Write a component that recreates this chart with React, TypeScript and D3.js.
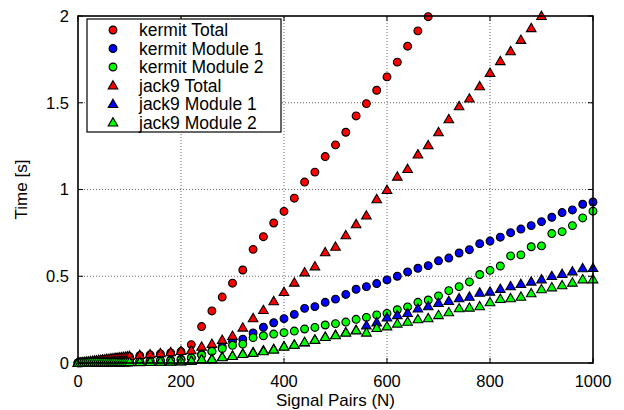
import React from "react";
import * as d3 from "d3";

const xValues = [
  0, 4, 8, 12, 16, 20, 24, 28, 32, 36, 40, 44, 48, 52, 56, 60, 64, 68, 72, 76, 80, 84, 88, 92, 96, 100,
  120, 140, 160, 180, 200, 220, 240, 260, 280, 300, 320, 340, 360, 380, 400, 420, 440, 460, 480, 500,
  520, 540, 560, 580, 600, 620, 640, 660, 680, 700, 720, 740, 760, 780, 800, 820, 840, 860, 880, 900,
  920, 940, 960, 980, 1000,
];

const kermitTotal = [
  0.002, 0.003, 0.004, 0.005, 0.006, 0.008, 0.009, 0.011, 0.012, 0.014, 0.015, 0.017, 0.018, 0.02, 0.021, 0.023, 0.024, 0.026, 0.027, 0.029, 0.03, 0.031, 0.032, 0.034, 0.035, 0.036,
  0.042, 0.047, 0.052, 0.058, 0.066, 0.106, 0.21, 0.3, 0.38, 0.46, 0.536, 0.655, 0.728, 0.807, 0.874, 0.95, 1.043, 1.1, 1.19, 1.257,
  1.33, 1.424, 1.495, 1.572, 1.649, 1.734, 1.826, 1.914, 1.996, null, null, null, null, null, null, null, null, null, null, null,
  null, null, null, null, null,
];

const kermitModule1 = [
  0.001, 0.001, 0.002, 0.002, 0.002, 0.003, 0.003, 0.003, 0.004, 0.004, 0.004, 0.005, 0.005, 0.005, 0.006, 0.006, 0.006, 0.007, 0.007, 0.007, 0.008, 0.008, 0.008, 0.009, 0.009, 0.009,
  0.01, 0.012, 0.015, 0.018, 0.022, 0.03, 0.05, 0.068, 0.094, 0.126, 0.137, 0.173, 0.206, 0.232, 0.256, 0.28, 0.315, 0.325, 0.35, 0.368,
  0.395, 0.425, 0.44, 0.458, 0.479, 0.5, 0.525, 0.546, 0.561, 0.589, 0.605, 0.634, 0.653, 0.688, 0.703, 0.725, 0.751, 0.772, 0.792, 0.815,
  0.84, 0.867, 0.882, 0.915, 0.928,
];

const kermitModule2 = [
  0.001, 0.001, 0.001, 0.002, 0.002, 0.002, 0.003, 0.003, 0.003, 0.003, 0.004, 0.004, 0.004, 0.005, 0.005, 0.005, 0.005, 0.006, 0.006, 0.006, 0.006, 0.007, 0.007, 0.007, 0.007, 0.008,
  0.008, 0.01, 0.012, 0.014, 0.018, 0.03, 0.046, 0.067, 0.083, 0.102, 0.109, 0.146, 0.157, 0.167, 0.175, 0.184, 0.196, 0.205, 0.219, 0.227,
  0.236, 0.252, 0.263, 0.277, 0.286, 0.307, 0.323, 0.35, 0.363, 0.387, 0.417, 0.44, 0.467, 0.51, 0.534, 0.559, 0.617, 0.623, 0.67, 0.675,
  0.746, 0.757, 0.792, 0.836, 0.875,
];

const jack9Total = [
  0.002, 0.003, 0.005, 0.006, 0.008, 0.009, 0.011, 0.012, 0.014, 0.015, 0.017, 0.018, 0.02, 0.021, 0.023, 0.024, 0.026, 0.027, 0.029, 0.03, 0.032, 0.033, 0.035, 0.036, 0.038, 0.04,
  0.046, 0.05, 0.056, 0.062, 0.069, 0.073, 0.094, 0.11, 0.133, 0.156, 0.204, 0.258, 0.305, 0.356, 0.409, 0.463, 0.522, 0.557, 0.638, 0.67,
  0.736, 0.8, 0.85, 0.944, 0.997, 1.074, 1.118, 1.202, 1.255, 1.33, 1.405, 1.48, 1.524, 1.595, 1.672, 1.74, 1.797, 1.862, 1.93, 2.0,
  null, null, null, null, null,
];

const jack9Module1 = [
  0.001, 0.001, 0.001, 0.001, 0.002, 0.002, 0.002, 0.002, 0.002, 0.003, 0.003, 0.003, 0.003, 0.003, 0.004, 0.004, 0.004, 0.004, 0.004, 0.005, 0.005, 0.005, 0.005, 0.005, 0.005, 0.006,
  0.006, 0.007, 0.008, 0.009, 0.01, 0.014, 0.022, 0.024, 0.035, 0.042, 0.054, 0.062, 0.073, 0.081, 0.096, 0.106, 0.119, 0.135, 0.15, 0.162,
  0.177, 0.19, 0.217, 0.234, 0.262, 0.276, 0.288, 0.314, 0.327, 0.346, 0.357, 0.373, 0.382, 0.405, 0.411, 0.427, 0.442, 0.455, 0.469, 0.482,
  0.501, 0.513, 0.528, 0.546, 0.547,
];

const jack9Module2 = [
  0.001, 0.001, 0.001, 0.001, 0.001, 0.002, 0.002, 0.002, 0.002, 0.002, 0.002, 0.003, 0.003, 0.003, 0.003, 0.003, 0.003, 0.004, 0.004, 0.004, 0.004, 0.004, 0.004, 0.005, 0.005, 0.005,
  0.005, 0.006, 0.007, 0.008, 0.009, 0.012, 0.021, 0.021, 0.033, 0.04, 0.052, 0.058, 0.068, 0.077, 0.094, 0.105, 0.12, 0.133, 0.15, 0.16,
  0.175, 0.188, 0.175, 0.202, 0.211, 0.227, 0.238, 0.252, 0.258, 0.276, 0.292, 0.315, 0.319, 0.327, 0.35, 0.369, 0.373, 0.382, 0.402, 0.425,
  0.436, 0.448, 0.463, 0.482, 0.482,
];

const seriesNames = ["kermit Total", "kermit Module 1", "kermit Module 2", "jack9 Total", "jack9 Module 1", "jack9 Module 2"];
const seriesColors = ["#ff0000", "#0000ff", "#00ff00", "#ff0000", "#0000ff", "#00ff00"];
const seriesShapes = ["circle", "circle", "circle", "triangle", "triangle", "triangle"];
const seriesValues = [kermitTotal, kermitModule1, kermitModule2, jack9Total, jack9Module1, jack9Module2];

const xTicks = [0, 200, 400, 600, 800, 1000];
const yTicks = [0, 0.5, 1, 1.5, 2];
const yTickLabels = ["0", "0.5", "1", "1.5", "2"];

const W = 624;
const H = 410;
const M = { left: 78, right: 31, top: 16, bottom: 47 };
const FONT = "'Liberation Sans', Arial, Helvetica, sans-serif";

const x = d3.scaleLinear().domain([0, 1000]).range([M.left, W - M.right]);
const y = d3.scaleLinear().domain([0, 2]).range([H - M.bottom, M.top]);

const circlePath = d3.symbol().type(d3.symbolCircle).size(Math.PI * 3.9 * 3.9)() as string;
const triPath = d3.symbol().type(d3.symbolTriangle).size(40)() as string;

function Marker({ shape, cx, cy, color }: { shape: string; cx: number; cy: number; color: string }) {
  const d = shape === "circle" ? circlePath : triPath;
  const dy = shape === "circle" ? 0 : 0.7;
  return (
    <path
      d={d}
      transform={`translate(${cx},${cy + dy})`}
      fill={color}
      stroke="#000"
      strokeWidth={1.1}
    />
  );
}

export default function App() {
  return (
    <svg width={W} height={H} style={{ position: "absolute", left: 0, top: 0, background: "#fff" }}>
      <rect x={0} y={0} width={W} height={H} fill="#fff" />
      {/* grid */}
      {xTicks.slice(1, -1).map((t) => (
        <line key={"gx" + t} x1={x(t)} x2={x(t)} y1={y(0)} y2={y(2)} stroke="#666" strokeWidth={1} strokeDasharray="1,2" />
      ))}
      {yTicks.slice(1, -1).map((t) => (
        <line key={"gy" + t} x1={x(0)} x2={x(1000)} y1={y(t)} y2={y(t)} stroke="#666" strokeWidth={1} strokeDasharray="1,2" />
      ))}
      {/* data */}
      <g>
        {seriesValues.map((vals, si) =>
          xValues.map((xv, i) => {
            const v = vals[i];
            if (v === null || v === undefined) return null;
            return <Marker key={si + "-" + i} shape={seriesShapes[si]} cx={x(xv)} cy={y(v)} color={seriesColors[si]} />;
          })
        )}
      </g>
      {/* frame */}
      <rect x={x(0)} y={y(2)} width={x(1000) - x(0)} height={y(0) - y(2)} fill="none" stroke="#000" strokeWidth={1.6} />
      {/* ticks */}
      {xTicks.map((t) => (
        <g key={"tx" + t}>
          <line x1={x(t)} x2={x(t)} y1={y(0)} y2={y(0) - 5} stroke="#000" />
          <line x1={x(t)} x2={x(t)} y1={y(2)} y2={y(2) + 5} stroke="#000" />
          <text x={x(t)} y={y(0) + 24} textAnchor="middle" fontFamily={FONT} fontSize={16.5} fill="#000">
            {t}
          </text>
        </g>
      ))}
      {yTicks.map((t, i) => (
        <g key={"ty" + t}>
          <line x1={x(0)} x2={x(0) + 5} y1={y(t)} y2={y(t)} stroke="#000" />
          <line x1={x(1000)} x2={x(1000) - 5} y1={y(t)} y2={y(t)} stroke="#000" />
          <text x={x(0) - 9} y={y(t)} dy="0.36em" textAnchor="end" fontFamily={FONT} fontSize={16.5} fill="#000">
            {yTickLabels[i]}
          </text>
        </g>
      ))}
      {/* axis labels */}
      <text x={(x(0) + x(1000)) / 2} y={406} textAnchor="middle" fontFamily={FONT} fontSize={17} fill="#000">
        Signal Pairs (N)
      </text>
      <text transform={`translate(27,${(y(0) + y(2)) / 2}) rotate(-90)`} textAnchor="middle" fontFamily={FONT} fontSize={17} fill="#000">
        Time [s]
      </text>
      {/* legend */}
      <g>
        <rect x={87} y={19} width={194} height={113} fill="#fff" stroke="#000" strokeWidth={1.2} />
        {seriesNames.map((name, i) => {
          const cy = 30 + i * 18.5;
          return (
            <g key={name}>
              <Marker shape={seriesShapes[i]} cx={113} cy={cy} color={seriesColors[i]} />
              <text x={139} y={cy} dy="0.36em" fontFamily={FONT} fontSize={17.5} fill="#000">
                {name}
              </text>
            </g>
          );
        })}
      </g>
    </svg>
  );
}
